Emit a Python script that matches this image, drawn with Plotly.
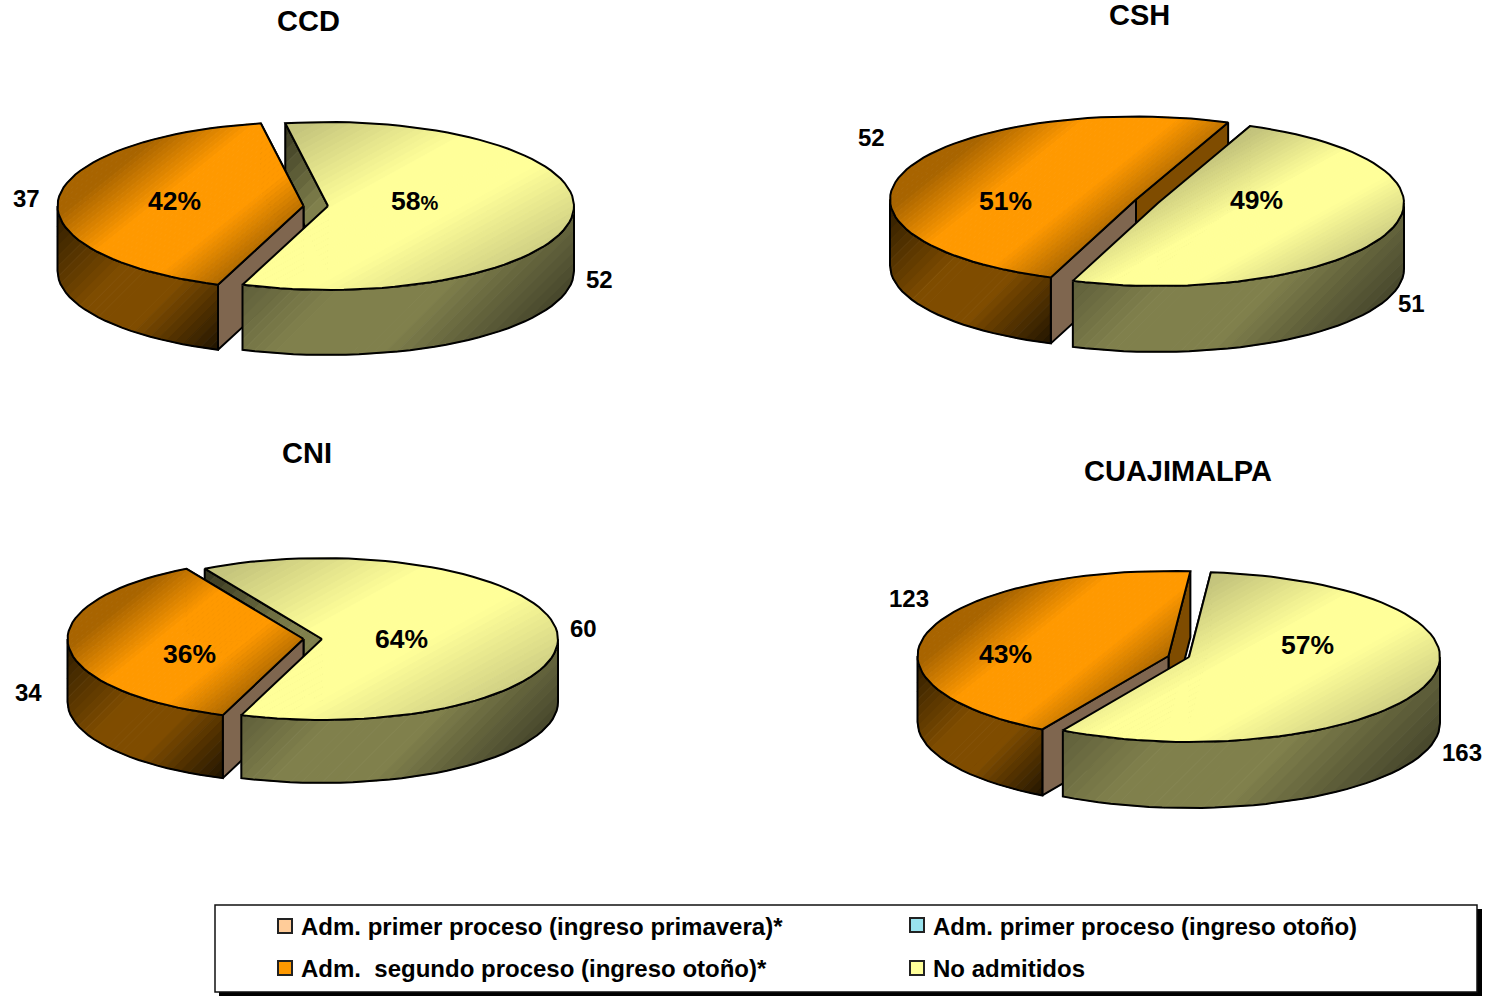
import math
import plotly.graph_objects as go

# ---- data ----
pies = ["CCD", "CSH", "CNI", "CUAJIMALPA"]
segundo_proceso = [37, 52, 34, 123]
no_admitidos = [52, 51, 60, 163]
pct_segundo = ["42%", "51%", "36%", "43%"]
pct_no_admitidos = ['58<span style="font-size:20px">%</span>', "49%", "64%", "57%"]
legend_labels = [
    "Adm. primer proceso (ingreso primavera)*",
    "Adm. primer proceso (ingreso otoño)",
    "Adm.  segundo proceso (ingreso otoño)*",
    "No admitidos",
]

# ---- layout (pixel space of the page) ----
rotation = [-10, 22, -29.8, 5]            # angle where the "no admitidos" slice starts
yellow_apex = [(328, 206), (1158, 203), (322, 639), (1189, 657)]
orange_apex = [(303.5, 206), (1136, 199.5), (303.5, 639), (1168.5, 656)]
radius_x = [246, 246, 236, 251]
radius_y = [84, 83, 81, 85]
depth = [65, 66, 63, 66]
title_pos = [(308, 21), (1139, 15), (307, 453), (1178, 471)]
val_orange_pos = [(26, 198), (871, 137), (28, 692), (909, 598)]
val_yellow_pos = [(599, 279), (1411, 303), (583, 628), (1462, 752)]
pct_orange_pos = [(174, 201), (1005, 201), (189, 654), (1005, 654)]
pct_yellow_pos = [(414, 201), (1256, 200), (401, 639), (1307, 645)]
legend_swatch = [(285, 926), (917, 925), (285, 968), (917, 968)]
legend_colors = ["#FFCC99", "#99E3EE", "#FF9900", "#FFFF99"]
legend_text_x = [299, 931, 299, 931]
legend_text_y = [926, 926, 968, 968]

FONT = "Liberation Sans"
TOP_O = [(0.12, "#a86400"), (0.42, "#ff9900"), (0.74, "#ff9900"), (1.0, "#b06a00")]
TOP_Y = [(0.05, "#c4c47c"), (0.42, "#ffff99"), (0.68, "#ffff99"), (1.0, "#d0d084")]
WALL_O = [(0.0, "#2a1a00"), (0.42, "#7f4c00"), (0.65, "#7f4c00"), (1.0, "#201400")]
WALL_Y = [(0.0, "#5e5e3a"), (0.30, "#80804c"), (0.62, "#80804c"), (1.0, "#46462c")]
WALL_BROWN = [(0.0, "#7f664f"), (1.0, "#7f664f")]
WALL_TIP_O = [(0.0, "#7f4c00"), (1.0, "#7f4c00")]
WALL_TIP_Y = [(0.0, "#34341f"), (0.6, "#80804c"), (1.0, "#80804c")]
DIR_TOP_O = (0.8, 1.0)
DIR_TOP_Y = (0.55, 1.0)
DIR_WALL = (1.0, 1.0)


def hex2rgb(h):
    return tuple(int(h[i:i + 2], 16) for i in (1, 3, 5))


def ramp(stops, t):
    if t <= stops[0][0]:
        return stops[0][1]
    for (a, ca), (b, cb) in zip(stops, stops[1:]):
        if t <= b:
            f = (t - a) / (b - a)
            ra, rb = hex2rgb(ca), hex2rgb(cb)
            return "rgb(%d,%d,%d)" % tuple(round(u + (v - u) * f) for u, v in zip(ra, rb))
    return stops[-1][1]


def clip(poly, fn, keep_above, level):
    out = []
    n = len(poly)
    for i in range(n):
        p, q = poly[i], poly[(i + 1) % n]
        dp, dq = fn(p) - level, fn(q) - level
        if not keep_above:
            dp, dq = -dp, -dq
        if dp >= 0:
            out.append(p)
        if (dp >= 0) != (dq >= 0):
            f = dp / (dp - dq)
            out.append((p[0] + (q[0] - p[0]) * f, p[1] + (q[1] - p[1]) * f))
    return out


def rim(c, rx, ry, a):
    r = math.radians(a)
    return (c[0] + rx * math.sin(r), c[1] - ry * math.cos(r))


def arc(c, rx, ry, a, b):
    n = max(2, int(abs(b - a) / 3) + 1)
    return [rim(c, rx, ry, a + (b - a) * i / (n - 1)) for i in range(n)]


fig = go.Figure()


def painted(outline, stops, bands, direction, pieces=None):
    """Fill outline with a diagonal colour ramp; pieces are convex parts of it."""
    fn = lambda p: p[0] * direction[0] + p[1] * direction[1]
    vals = [fn(p) for p in outline]
    lo, hi = min(vals), max(vals)
    step = (hi - lo) / bands
    for part in (pieces or [outline]):
        for k in range(bands):
            a, b = lo + k * step, lo + (k + 1) * step
            piece = clip(clip(part, fn, True, a), fn, False, b)
            if len(piece) < 3:
                continue
            col = ramp(stops, (k + 0.5) / bands)
            fig.add_trace(go.Scatter(
                x=[p[0] for p in piece] + [piece[0][0]],
                y=[p[1] for p in piece] + [piece[0][1]],
                mode="lines", fill="toself", fillcolor=col,
                line=dict(color=col, width=1), hoverinfo="skip", showlegend=False))
    fig.add_trace(go.Scatter(
        x=[p[0] for p in outline] + [outline[0][0]],
        y=[p[1] for p in outline] + [outline[0][1]],
        mode="lines", line=dict(color="black", width=2),
        hoverinfo="skip", showlegend=False))


def inner_wall(apex, point, d):
    return [apex, point, (point[0], point[1] + d), (apex[0], apex[1] + d)]


def outer_wall(c, rx, ry, d, a, b):
    top = arc(c, rx, ry, a, b)
    return top + [(p[0], p[1] + d) for p in reversed(top)]


def top_face(c, rx, ry, a, b, stops, direction):
    outline = [c] + arc(c, rx, ry, a, b)
    m = (a + b) / 2
    pieces = [[c] + arc(c, rx, ry, a, m), [c] + arc(c, rx, ry, m, b)]
    painted(outline, stops, 44, direction, pieces)


for i in range(len(pies)):
    rx, ry, d = radius_x[i], radius_y[i], depth[i]
    yc, oc = yellow_apex[i], orange_apex[i]
    total = segundo_proceso[i] + no_admitidos[i]
    y_start = rotation[i]
    y_end = y_start + 360 * no_admitidos[i] / total
    o_start, o_end = y_end, y_start + 360

    # back wall of the yellow slice
    painted(inner_wall(yc, rim(yc, rx, ry, y_start), d), WALL_TIP_Y, 14, DIR_WALL)
    # orange slice
    painted(inner_wall(oc, rim(oc, rx, ry, o_end), d), WALL_TIP_O, 1, DIR_WALL)
    painted(inner_wall(oc, rim(oc, rx, ry, o_start), d), WALL_BROWN, 1, DIR_WALL)
    painted(outer_wall(oc, rx, ry, d, o_start, 270), WALL_O, 30, DIR_WALL)
    top_face(oc, rx, ry, o_start, o_end, TOP_O, DIR_TOP_O)
    # yellow slice
    painted(outer_wall(yc, rx, ry, d, max(y_start, 90), y_end), WALL_Y, 30, DIR_WALL)
    top_face(yc, rx, ry, y_start, y_end, TOP_Y, DIR_TOP_Y)

annotations = []


def label(x, y, text, size, anchor="center"):
    annotations.append(dict(x=x, y=y, text=text, xref="x", yref="y", showarrow=False,
                            xanchor=anchor, yanchor="middle",
                            font=dict(family=FONT, size=size, color="black")))


for i in range(len(pies)):
    label(*title_pos[i], "<b>%s</b>" % pies[i], 29)
    label(*val_orange_pos[i], "<b>%d</b>" % segundo_proceso[i], 24)
    label(*val_yellow_pos[i], "<b>%d</b>" % no_admitidos[i], 24)
    label(*pct_orange_pos[i], "<b>%s</b>" % pct_segundo[i], 26.5)
    label(*pct_yellow_pos[i], "<b>%s</b>" % pct_no_admitidos[i], 26.5)

for j, t in enumerate(legend_labels):
    label(legend_text_x[j], legend_text_y[j], "<b>%s</b>" % t, 24, "left")

fig.add_trace(go.Scatter(
    x=[p[0] for p in legend_swatch], y=[p[1] for p in legend_swatch], mode="markers",
    marker=dict(symbol="square", size=14, color=legend_colors, line=dict(color="#222222", width=2)),
    hoverinfo="skip", showlegend=False))

shapes = [
    dict(type="rect", xref="x", yref="y", x0=219, y0=909, x1=1482, y1=996,
         fillcolor="black", line=dict(width=0), layer="below"),
    dict(type="rect", xref="x", yref="y", x0=215, y0=905, x1=1477, y1=992,
         fillcolor="white", line=dict(color="#111111", width=1.5), layer="below"),
]

fig.update_layout(
    width=1493, height=997, margin=dict(l=0, r=0, t=0, b=0),
    paper_bgcolor="white", plot_bgcolor="white", showlegend=False,
    xaxis=dict(range=[0, 1493], visible=False, fixedrange=True),
    yaxis=dict(range=[997, 0], visible=False, fixedrange=True),
    annotations=annotations, shapes=shapes,
)
fig.write_html("out.html", post_script="document.body.style.margin='0';",
               config=dict(displayModeBar=False))
